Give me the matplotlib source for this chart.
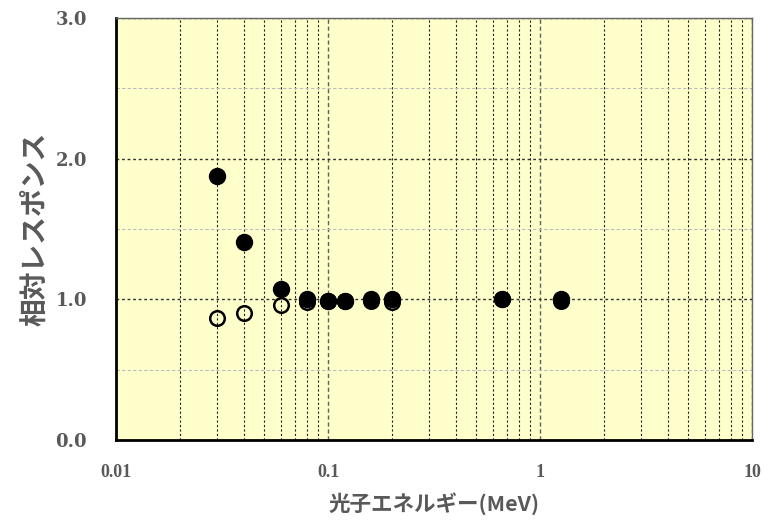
import numpy as np
import matplotlib
matplotlib.use("Agg")
import matplotlib.pyplot as plt
from matplotlib.ticker import LogLocator, FixedLocator, NullFormatter

# photon energy (MeV) and relative response
energy = [0.03, 0.04, 0.06, 0.08, 0.1, 0.12, 0.16, 0.2, 0.662, 1.25]
resp_filled = [1.88, 1.41, 1.07, 1.00, 0.99, 0.99, 1.00, 1.00, 1.00, 1.00]
resp_open = [0.87, 0.90, 0.96, 0.98, 0.99, 0.99, 0.99, 0.98, 1.00, 0.99]

x_ticks = [0.01, 0.1, 1, 10]
x_tick_labels = ["0.01", "0.1", "1", "10"]
y_ticks = [0.0, 1.0, 2.0, 3.0]
y_tick_labels = ["0.0", "1.0", "2.0", "3.0"]

grey = "#595959"

plt.rcParams["font.family"] = ["Liberation Serif", "DejaVu Serif"]
plt.rcParams["font.weight"] = "bold"
plt.rcParams["xtick.labelsize"] = 13
plt.rcParams["ytick.labelsize"] = 13
plt.rcParams["xtick.major.pad"] = 17
plt.rcParams["ytick.major.pad"] = 21
plt.rcParams["xtick.color"] = grey
plt.rcParams["ytick.color"] = grey

fig = plt.figure(figsize=(7.78, 5.25), dpi=100)
ax = fig.add_axes([116/778, 85/525, 636/778, 422/525])
ax.set_facecolor("#FFFFCC")

ax.set_xscale("log")
ax.set_xlim(0.01, 10)
ax.set_ylim(0, 3)

ax.xaxis.set_minor_locator(LogLocator(base=10, subs=np.arange(2, 10)))
ax.xaxis.set_minor_formatter(NullFormatter())
ax.yaxis.set_minor_locator(FixedLocator([0.5, 1.5, 2.5]))
ax.set_xticks(x_ticks, x_tick_labels)
ax.set_yticks(y_ticks, y_tick_labels)
for lab in ax.get_yticklabels():
    lab.set_fontfamily("DejaVu Serif")

ax.grid(which="major", axis="x", color="#606060", linestyle=(0, (3, 2)), linewidth=1.0)
ax.grid(which="minor", axis="x", color="#202020", linestyle=(0, (2, 2)), linewidth=0.8)
ax.grid(which="major", axis="y", color="#303030", linestyle=(0, (2, 2)), linewidth=1.0)
ax.grid(which="minor", axis="y", color="#BBBBBB", linestyle=(0, (3, 2)), linewidth=0.8)
ax.set_axisbelow(True)

ax.plot(energy, resp_open, linestyle="none", marker="o", markersize=10.5,
        markerfacecolor="none", markeredgecolor="black", markeredgewidth=1.8, zorder=3)
ax.plot(energy, resp_filled, linestyle="none", marker="o", markersize=11.5,
        markerfacecolor="black", markeredgecolor="black", zorder=4)

ax.tick_params(which="both", length=0)

for side in ["left", "bottom"]:
    ax.spines[side].set_linewidth(2.0)
    ax.spines[side].set_color("black")
for side in ["top", "right"]:
    ax.spines[side].set_linewidth(1.0)
    ax.spines[side].set_color("#666666")

cjk = ["Noto Sans CJK JP", "DejaVu Sans"]
ax.set_xlabel("光子エネルギー(MeV)", family=cjk, fontweight="bold",
              fontsize=15.5, color=grey, labelpad=8)
ax.set_ylabel("相対レスポンス", family=cjk, fontweight="bold",
              fontsize=20, color=grey, labelpad=4)

fig.savefig("out.png", dpi=100)
